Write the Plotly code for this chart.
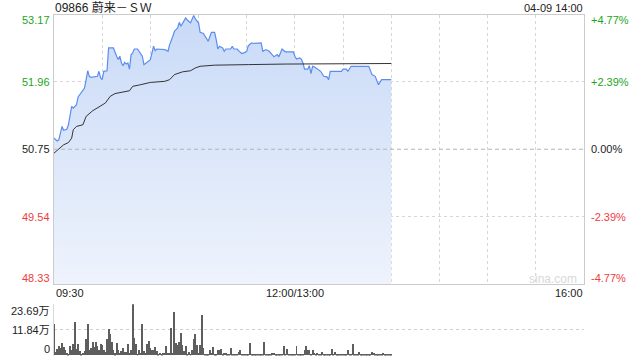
import plotly.graph_objects as go

# ---------------- data ----------------
title_text = "09866 蔚来－ＳＷ"
stamp_text = "04-09 14:00"
watermark = "sina.com"
prev_close = 50.75
price_ticks = [53.17, 51.96, 50.75, 49.54, 48.33]
pct_labels = ["+4.77%", "+2.39%", "0.00%", "-2.39%", "-4.77%"]
vol_ticks = [0, 11.84, 23.69]
vol_labels = ["0", "11.84万", "23.69万"]
time_labels = ["09:30", "12:00/13:00", "16:00"]

price_times = [
    "09:30", "09:32", "09:33", "09:35", "09:36", "09:38", "09:39", "09:41", "09:42", "09:44",
    "09:45", "09:47", "09:49", "09:50", "09:51", "09:52", "09:53", "09:57", "09:58", "09:59",
    "10:00", "10:01", "10:03", "10:04", "10:07", "10:09", "10:10", "10:11", "10:12", "10:13",
    "10:14", "10:15", "10:16", "10:17", "10:18", "10:19", "10:20", "10:22", "10:25", "10:26",
    "10:28", "10:30", "10:32", "10:33", "10:34", "10:39", "10:41", "10:42", "10:44", "10:45",
    "10:47", "10:48", "10:49", "10:50", "10:52", "10:53", "10:54", "10:55", "10:57", "10:58",
    "11:00", "11:01", "11:03", "11:04", "11:06", "11:08", "11:10", "11:11", "11:12", "11:13",
    "11:15", "11:16", "11:17", "11:20", "11:21", "11:22", "11:24", "11:26", "11:27", "11:29",
    "11:30", "11:31", "11:33", "11:34", "11:39", "11:40", "11:42", "11:44", "11:45", "11:47",
    "11:49", "11:50", "11:51", "11:52", "11:54", "11:59", "12:00", "13:01", "13:03", "13:04",
    "13:05", "13:06", "13:08", "13:09", "13:10", "13:11", "13:12", "13:14", "13:16", "13:18",
    "13:20", "13:21", "13:22", "13:29", "13:30", "13:32", "13:33", "13:35", "13:46", "13:48",
    "13:50", "13:52", "13:54", "14:00",
]
price_values = [
    50.95, 50.90, 50.92, 51.16, 51.09, 51.11, 51.19, 51.52, 51.49, 51.55,
    51.69, 51.76, 51.85, 52.00, 52.16, 52.06, 52.04, 52.06, 52.15, 52.03,
    52.00, 52.15, 52.16, 52.57, 52.57, 52.42, 52.36, 52.42, 52.30, 52.25,
    52.31, 52.28, 52.30, 52.19, 52.45, 52.48, 52.55, 52.55, 52.42, 52.27,
    52.31, 52.36, 52.60, 52.52, 52.55, 52.54, 52.51, 52.63, 52.78, 52.87,
    52.93, 53.03, 52.96, 53.02, 53.11, 53.07, 53.05, 53.02, 53.15, 53.09,
    53.02, 52.85, 52.83, 52.79, 52.69, 52.85, 52.85, 52.72, 52.55, 52.60,
    52.57, 52.51, 52.55, 52.55, 52.60, 52.55, 52.55, 52.49, 52.47, 52.49,
    52.51, 52.61, 52.66, 52.65, 52.66, 52.51, 52.54, 52.51, 52.47, 52.41,
    52.45, 52.41, 52.48, 52.55, 52.50, 52.50, 52.42, 52.37, 52.39, 52.37,
    52.30, 52.19, 52.19, 52.25, 52.11, 52.24, 52.23, 52.19, 52.15, 52.06,
    52.05, 52.00, 52.15, 52.15, 52.19, 52.19, 52.15, 52.24, 52.24, 52.09,
    52.06, 51.91, 52.00, 52.00,
]

avg_times = [
    "09:30", "09:33", "09:36", "09:39", "09:41", "09:42", "09:44", "09:48", "09:50", "09:54",
    "09:59", "10:02", "10:05", "10:08", "10:17", "10:19", "10:24", "10:30", "10:39", "10:42",
    "10:45", "10:50", "10:55", "10:58", "11:01", "11:10", "11:31", "11:54", "14:00",
]
avg_values = [
    50.68, 50.75, 50.83, 50.87, 50.95, 51.10, 51.16, 51.19, 51.34, 51.44,
    51.53, 51.58, 51.70, 51.75, 51.80, 51.88, 51.91, 51.95, 51.97, 52.00,
    52.09, 52.14, 52.16, 52.21, 52.24, 52.26, 52.27, 52.28, 52.29,
]

# volume per minute from 09:30 (unit: 万 shares)
volume_values = [
    14.6, 1.5, 3.1, 4.2, 3.4, 5.7, 3.7, 2.2, 1.1, 0.6,
    4.2, 2.2, 5.3, 15.5, 3.1, 5.3, 1.9, 0.6, 1.0, 1.9,
    7.3, 14.6, 2.6, 3.4, 6.2, 3.7, 6.2, 4.2, 2.6, 5.0,
    4.7, 2.6, 1.5, 7.3, 12.0, 9.6, 6.2, 2.6, 0.8, 5.7,
    2.2, 1.0, 1.9, 3.4, 1.5, 1.5, 5.0, 1.0, 2.2, 23.6,
    8.1, 5.3, 0.6, 2.2, 1.0, 14.6, 1.9, 1.2, 5.3, 6.8,
    3.4, 2.6, 2.2, 3.7, 1.9, 0.6, 1.0, 0.5, 1.0, 1.0,
    4.2, 1.0, 1.0, 12.4, 1.0, 20.2, 5.7, 4.7, 6.2, 10.4,
    4.7, 1.9, 4.2, 0.6, 1.5, 0.6, 2.6, 7.3, 9.6, 4.7,
    1.0, 4.7, 18.6, 3.4, 0.6, 0.6, 0.5, 2.6, 1.0, 3.7,
    0.6, 0.6, 2.6, 2.6, 3.1, 0.6, 1.0, 1.0, 0.6, 0.5,
    3.4, 0.6, 0.6, 0.5, 0.5, 1.5, 2.2, 0.6, 0.5, 0.5,
    0.5, 0.5, 5.7, 0.6, 0.5, 0.5, 0.4, 0.5, 0.4, 0.4,
    0.4, 6.2, 0.4, 0.5, 0.4, 0.4, 1.0, 1.0, 0.5, 0.4,
    0.5, 0.5, 0.5, 4.2, 0.6, 3.1, 0.4, 0.5, 0.4, 0.6, 0.4,
    4.2, 0.6, 0.5, 0.5, 0.5, 2.2, 4.2, 2.6, 2.2, 0.5,
    2.3, 1.0, 0.5, 1.0, 0.6, 0.6, 1.5, 0.6, 0.5, 0.6,
    0.5, 0.6, 3.1, 0.5, 1.5, 0.5, 0.6, 0.5, 0.5, 0.6,
    0.5, 0.5, 2.2, 0.5, 0.6, 5.0, 0.6, 0.5, 0.6, 1.5,
    0.6, 0.5, 0.6, 0.5, 0.5, 0.6, 0.5, 1.5, 1.0, 0.6,
    0.5, 0.5, 0.6, 0.5, 1.0, 0.6, 0.5, 0.6, 0.5, 0.5,
]


def trade_min(t):
    h, m = map(int, t.split(":"))
    mins = h * 60 + m
    if mins <= 12 * 60:
        return mins - (9 * 60 + 30)
    return mins - 13 * 60 + 150


TOTAL = 330
price_x = [trade_min(t) for t in price_times]
avg_x = [trade_min(t) for t in avg_times]
vol_x = list(range(len(volume_values)))

# ---------------- layout geometry ----------------
W, H = 640, 360
L, R = 54, 584
MAIN_TOP, MAIN_BOT = 14.5, 284
VOL_TOP, VOL_BOT = 304.3, 355.5


def px(x):
    return x / W


def py(y):
    return 1 - y / H


FONT = "Liberation Sans, Arial, Noto Sans CJK SC, sans-serif"
GREEN = "#22a622"
RED = "#f03c3c"
DARK = "#222222"
label_colors = [GREEN, GREEN, DARK, RED, RED]

fig = go.Figure()

fig.add_trace(go.Scatter(
    x=price_x, y=price_values, mode="lines",
    line=dict(color="#5b8def", width=1.2),
    fill="tozeroy",
    fillgradient=dict(type="vertical",
                      colorscale=[[0, "#eef3fc"], [1, "#c9daf7"]],
                      start=price_ticks[-1], stop=price_ticks[0]),
    xaxis="x", yaxis="y", hoverinfo="skip", showlegend=False,
))
fig.add_trace(go.Scatter(
    x=avg_x, y=avg_values, mode="lines",
    line=dict(color="#333333", width=1),
    xaxis="x", yaxis="y", hoverinfo="skip", showlegend=False,
))
fig.add_trace(go.Bar(
    x=vol_x, y=volume_values, width=0.6,
    marker=dict(color="#5e5e5e", line=dict(width=0)),
    xaxis="x2", yaxis="y2", hoverinfo="skip", showlegend=False,
))

grid_x = list(range(30, TOTAL, 30))

fig.update_layout(
    width=W, height=H,
    margin=dict(l=0, r=0, t=0, b=0),
    paper_bgcolor="white", plot_bgcolor="white",
    font=dict(family=FONT, size=11, color=DARK),
    bargap=0,
    xaxis=dict(domain=[px(L), px(R)], range=[0, TOTAL], tickvals=grid_x,
               showticklabels=False, ticks="", showgrid=True,
               gridcolor="#d6d6d6", griddash="dot", gridwidth=1,
               zeroline=False, showline=True, mirror=True,
               linecolor="#cccccc", linewidth=1, fixedrange=True),
    yaxis=dict(domain=[py(MAIN_BOT), py(MAIN_TOP)],
               range=[price_ticks[-1], price_ticks[0]],
               tickvals=[price_ticks[1], price_ticks[3]],
               showticklabels=False, ticks="", showgrid=True,
               gridcolor="#d6d6d6", griddash="dot", gridwidth=1,
               zeroline=False, showline=True, mirror=True,
               linecolor="#cccccc", linewidth=1, fixedrange=True),
    xaxis2=dict(domain=[px(L), px(R)], range=[0, TOTAL], anchor="y2",
                showticklabels=False, ticks="", showgrid=False,
                zeroline=False, showline=False, fixedrange=True),
    yaxis2=dict(domain=[py(VOL_BOT), py(VOL_TOP)], anchor="x2",
                range=[0, vol_ticks[-1]], tickvals=vol_ticks[1:],
                showticklabels=False, ticks="", showgrid=True,
                gridcolor="#cfcfcf", griddash="dot", gridwidth=1,
                zeroline=False, showline=True, linecolor="#d8d8d8",
                linewidth=1, fixedrange=True),
)

# previous close dashed line
fig.add_shape(type="line", xref="paper", yref="y",
              x0=px(L), x1=px(R), y0=prev_close, y1=prev_close,
              line=dict(color="#b4b4b4", width=1, dash="4px,3px"))

ann = []
shifts = [-6, 0, 0, 0, 6]
for v, pl, c, s in zip(price_ticks, pct_labels, label_colors, shifts):
    ann.append(dict(x=px(L - 2), y=v, xref="paper", yref="y", text=f"{v:.2f}",
                    xanchor="right", yanchor="middle", yshift=s, showarrow=False,
                    font=dict(color=c, size=11)))
    ann.append(dict(x=px(R + 5), y=v, xref="paper", yref="y", text=pl,
                    xanchor="left", yanchor="middle", yshift=s, showarrow=False,
                    font=dict(color=c, size=11)))

vshifts = [7, 0, -7]
for v, lab, s in zip(vol_ticks, vol_labels, vshifts):
    ann.append(dict(x=px(L - 2), y=v, xref="paper", yref="y2", text=lab,
                    xanchor="right", yanchor="middle", yshift=s, showarrow=False,
                    font=dict(color=DARK, size=11)))

ann.append(dict(x=px(L), y=py(293), xref="paper", yref="paper", text=time_labels[0],
                xanchor="left", yanchor="middle", showarrow=False, font=dict(size=11)))
ann.append(dict(x=150, y=py(293), xref="x", yref="paper", text=time_labels[1],
                xanchor="center", yanchor="middle", showarrow=False, font=dict(size=11)))
ann.append(dict(x=px(R + 1), y=py(293), xref="paper", yref="paper", text=time_labels[2],
                xanchor="right", yanchor="middle", showarrow=False, font=dict(size=11)))

ann.append(dict(x=px(L - 1), y=py(7.5), xref="paper", yref="paper", text=title_text,
                xanchor="left", yanchor="middle", showarrow=False,
                font=dict(size=12, color=DARK)))
ann.append(dict(x=px(R + 1), y=py(7.5), xref="paper", yref="paper", text=stamp_text,
                xanchor="right", yanchor="middle", showarrow=False,
                font=dict(size=11, color=DARK)))
ann.append(dict(x=px(553), y=py(278.5), xref="paper", yref="paper", text=watermark,
                xanchor="center", yanchor="middle", showarrow=False,
                font=dict(size=12, color="#d9d9d9")))

fig.update_layout(annotations=ann)

fig.write_html("out.html", config={"displayModeBar": False})
